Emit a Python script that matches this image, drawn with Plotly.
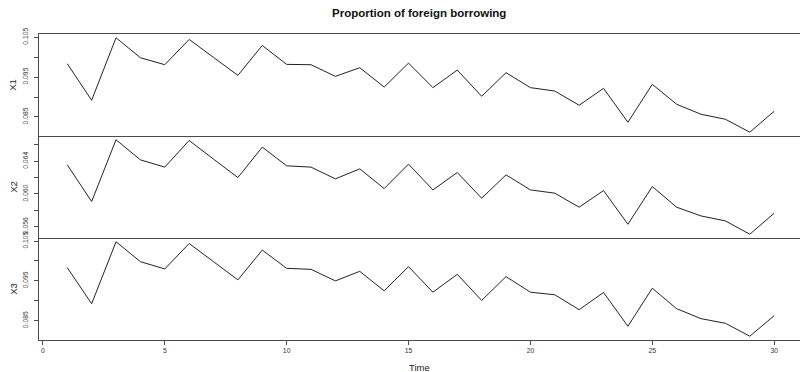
import plotly.graph_objects as go

# Annual observations, time index 1..30
time = list(range(1, 31))

x1 = [0.09835, 0.08918, 0.10485, 0.09985, 0.09810, 0.10443, 0.09993, 0.09543, 0.10293, 0.09818,
      0.09810, 0.09518, 0.09735, 0.09250, 0.09850, 0.09235, 0.09675, 0.09018, 0.09610, 0.09235,
      0.09150, 0.08793, 0.09218, 0.08368, 0.09318, 0.08818, 0.08568, 0.08443, 0.08118, 0.08643]

x2 = [0.06357, 0.05907, 0.06664, 0.06418, 0.06329, 0.06655, 0.06427, 0.06201, 0.06574, 0.06345,
      0.06329, 0.06185, 0.06308, 0.06066, 0.06366, 0.06050, 0.06263, 0.05948, 0.06234, 0.06050,
      0.06010, 0.05838, 0.06042, 0.05629, 0.06091, 0.05838, 0.05731, 0.05670, 0.05507, 0.05764]

x3 = [0.09833, 0.08925, 0.10483, 0.09983, 0.09800, 0.10440, 0.09983, 0.09525, 0.10275, 0.09815,
      0.09790, 0.09500, 0.09740, 0.09250, 0.09858, 0.09215, 0.09665, 0.09008, 0.09608, 0.09215,
      0.09150, 0.08775, 0.09208, 0.08358, 0.09315, 0.08800, 0.08550, 0.08433, 0.08108, 0.08625]

series_names = ["X1", "X2", "X3"]

y1_ticks = [0.085, 0.090, 0.095, 0.100, 0.105]
y1_labels = ["0.085", "", "0.095", "", "0.105"]
y2_ticks = [0.056, 0.058, 0.060, 0.062, 0.064, 0.066]
y2_labels = ["0.056", "", "0.060", "", "0.064", ""]
y3_ticks = [0.085, 0.090, 0.095, 0.100, 0.105]
y3_labels = ["0.085", "", "0.095", "", "0.105"]

x_ticks = [0, 5, 10, 15, 20, 25, 30]

FONT = "Liberation Sans, Arial, sans-serif"
LINE = "#222222"
AXIS = "#4a4a4a"


def padded(vals, frac=0.04):
    lo, hi = min(vals), max(vals)
    d = (hi - lo) * frac
    return [lo - d, hi + d]


series = [x1, x2, x3]
yticks = [(y1_ticks, y1_labels), (y2_ticks, y2_labels), (y3_ticks, y3_labels)]
domains = [[0.6667, 1.0], [0.3333, 0.6667], [0.0, 0.3333]]

fig = go.Figure()
layout = dict(
    width=800, height=372,
    margin=dict(l=39, r=0, t=34, b=32),
    paper_bgcolor="white", plot_bgcolor="white",
    showlegend=False,
    font=dict(family=FONT, color="#222"),
)

annotations = []
for i, (name, vals, (tv, tt), dom) in enumerate(zip(series_names, series, yticks, domains)):
    n = i + 1
    xa = "x" if n == 1 else f"x{n}"
    ya = "y" if n == 1 else f"y{n}"
    fig.add_trace(go.Scatter(x=time, y=vals, mode="lines", xaxis=xa, yaxis=ya,
                             line=dict(color=LINE, width=1), name=name,
                             hoverinfo="x+y"))
    bottom = (n == 3)
    # only the top panel draws its upper border; the others share the
    # line of the panel above, so each separator is a single rule
    layout["xaxis" if n == 1 else f"xaxis{n}"] = dict(
        domain=[0, 1], anchor=ya, range=[-0.16, 31.06],
        showgrid=False, zeroline=False,
        showline=True, linecolor=AXIS, linewidth=1, mirror=(n == 1),
        ticks="outside" if bottom else "", ticklen=4, tickcolor=AXIS,
        tickvals=x_ticks, showticklabels=bottom,
        tickfont=dict(size=6.8, family=FONT, color="#333"),
        matches=None if n == 1 else "x",
    )
    layout["yaxis" if n == 1 else f"yaxis{n}"] = dict(
        domain=dom, anchor=xa, range=padded(vals),
        showgrid=False, zeroline=False,
        showline=True, linecolor=AXIS, linewidth=1,
        ticks="outside", ticklen=4, tickcolor=AXIS,
        tickvals=tv, ticktext=tt, tickangle=-90,
        ticklabelstandoff=3,
        tickfont=dict(size=6.8, family=FONT, color="#333"),
    )
    annotations.append(dict(
        text=name, xref="paper", yref="paper",
        x=-0.0345, y=(dom[0] + dom[1]) / 2, xanchor="center", yanchor="middle",
        textangle=-90, showarrow=False, font=dict(size=9.5, family=FONT, color="#222"),
    ))

annotations.append(dict(
    text="Time", xref="paper", yref="paper", x=0.4995, y=-0.09,
    xanchor="center", yanchor="middle", showarrow=False,
    font=dict(size=9.5, family=FONT, color="#222"),
))
annotations.append(dict(
    text="<b>Proportion of foreign borrowing</b>", xref="paper", yref="paper",
    x=0.4995, y=1.068, xanchor="center", yanchor="middle", showarrow=False,
    font=dict(size=11.5, family=FONT, color="#111"),
))
layout["annotations"] = annotations

fig.update_layout(**layout)
fig.write_html("out.html")
